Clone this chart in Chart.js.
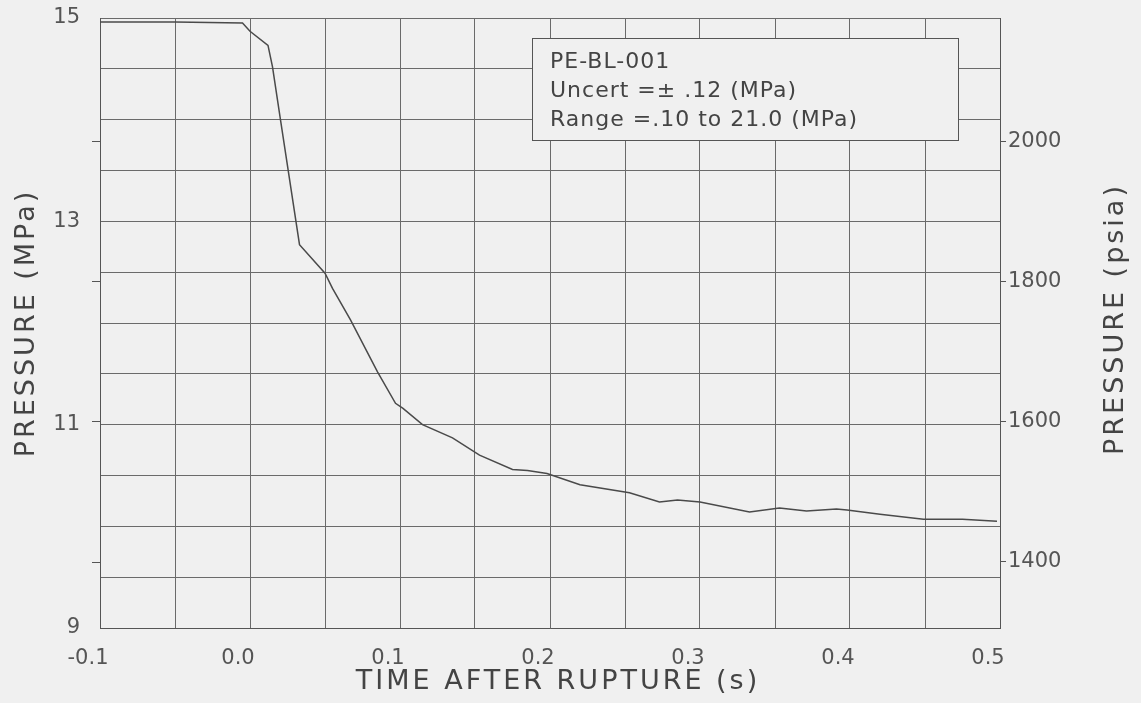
<!DOCTYPE html>
<html>
<head>
<meta charset="utf-8">
<script src="https://cdn.jsdelivr.net/npm/chart.js@4/dist/chart.umd.min.js"></script>
<style>
  html, body { margin: 0; padding: 0; background: #f0f0f0; }
  canvas { display: block; }
</style>
</head>
<body>
<canvas id="pressureChart" width="1141" height="703"></canvas>
<script>
// 讀圖得到的數據
const timeS = [-0.1, -0.05, -0.005, 0.0, 0.012, 0.015, 0.02, 0.033, 0.05, 0.055, 0.067, 0.085, 0.097, 0.102, 0.115, 0.135, 0.153, 0.175, 0.185, 0.198, 0.22, 0.253, 0.273, 0.285, 0.30, 0.333, 0.353, 0.371, 0.391, 0.398, 0.42, 0.449, 0.475, 0.498];
const pressureMPa = [14.96, 14.96, 14.95, 14.87, 14.73, 14.52, 14.03, 12.77, 12.49, 12.34, 12.03, 11.52, 11.21, 11.16, 11.0, 10.87, 10.70, 10.56, 10.55, 10.52, 10.41, 10.33, 10.24, 10.26, 10.24, 10.14, 10.18, 10.15, 10.17, 10.16, 10.12, 10.07, 10.07, 10.05];
const psiaTicks = [1400, 1600, 1800, 2000];
const legendLines = ['PE-BL-001', 'Uncert =\u00b1 .12 (MPa)', 'Range =.10 to 21.0 (MPa)'];
const xTitle = 'TIME AFTER RUPTURE (s)';
const yTitle = 'PRESSURE (MPa)';
const y2Title = 'PRESSURE (psia)';

const MPA_TO_PSI = 145.0377;
const Y_MIN = 9, Y_MAX = 15;
const BG = '#f0f0f0';
const INK = '#555';
const FONT = '"DejaVu Sans", sans-serif';

// 背景、說明框、標題
const decorPlugin = {
    id: 'decor',
    beforeDraw(chart) {
        const ctx = chart.ctx;
        ctx.save();
        ctx.fillStyle = BG;
        ctx.fillRect(0, 0, chart.width, chart.height);
        ctx.restore();
    },
    afterDraw(chart) {
        const ctx = chart.ctx;
        const area = chart.chartArea;
        const y2 = chart.scales.y2;
        ctx.save();

        // 左邊的 psia 刻度
        ctx.strokeStyle = INK;
        ctx.lineWidth = 1;
        psiaTicks.forEach(v => {
            const y = Math.round(y2.getPixelForValue(v)) + 0.5;
            ctx.beginPath();
            ctx.moveTo(area.left - 8, y);
            ctx.lineTo(area.left, y);
            ctx.stroke();
        });

        // 說明框
        const bx = area.right - 468, by = area.top + 20, bw = 426, bh = 102;
        ctx.fillStyle = BG;
        ctx.fillRect(bx, by, bw, bh);
        ctx.strokeRect(bx + 0.5, by + 0.5, bw, bh);
        ctx.fillStyle = '#444';
        ctx.font = '22px ' + FONT;
        ctx.letterSpacing = '1px';
        ctx.textBaseline = 'middle';
        ctx.textAlign = 'left';
        legendLines.forEach((line, i) => {
            ctx.fillText(line, bx + 18, by + 24 + i * 29);
        });

        // 軸標題
        ctx.font = '27px ' + FONT;
        ctx.letterSpacing = '3px';
        ctx.textAlign = 'center';
        const midY = (area.top + area.bottom) / 2;
        ctx.fillText(xTitle, (area.left + area.right) / 2 + 8, chart.height - 21);

        ctx.save();
        ctx.translate(27, midY);
        ctx.rotate(-Math.PI / 2);
        ctx.fillText(yTitle, 0, 0);
        ctx.restore();

        ctx.save();
        ctx.translate(chart.width - 25, midY - 4);
        ctx.rotate(-Math.PI / 2);
        ctx.fillText(y2Title, 0, 0);
        ctx.restore();

        ctx.restore();
    }
};

const gridStyle = { color: '#6a6a6a', lineWidth: 1, drawTicks: false };

// 固定軸的大小，不讓標籤撐開繪圖區
function fixVertical(width) {
    return s => { s.width = width; s.paddingTop = 0; s.paddingBottom = 0; };
}

new Chart(document.getElementById('pressureChart'), {
    type: 'line',
    data: {
        datasets: [{
            data: timeS.map((t, i) => ({ x: t, y: pressureMPa[i] })),
            borderColor: '#4a4a4a',
            borderWidth: 1.5,
            pointRadius: 0,
            tension: 0,
            fill: false
        }]
    },
    options: {
        responsive: false,
        animation: false,
        devicePixelRatio: 1,
        layout: { padding: { top: 18, left: 0, right: 0, bottom: 0 } },
        plugins: { legend: { display: false }, tooltip: { enabled: false } },
        scales: {
            x: {
                type: 'linear',
                min: -0.1,
                max: 0.5,
                grid: gridStyle,
                border: { color: '#555' },
                ticks: {
                    stepSize: 0.05,
                    autoSkip: false,
                    maxRotation: 0,
                    padding: 18,
                    labelOffset: -12,
                    color: INK,
                    font: { family: FONT, size: 21 },
                    callback: v => {
                        if (Math.round(v * 100) % 10 !== 0) return '';
                        return Math.abs(v) < 1e-9 ? '0.0' : v.toFixed(1);
                    }
                },
                afterFit: s => { s.height = 75; s.paddingLeft = 0; s.paddingRight = 0; }
            },
            y: {
                position: 'left',
                min: Y_MIN,
                max: Y_MAX,
                grid: gridStyle,
                border: { color: '#555' },
                ticks: {
                    stepSize: 0.5,
                    autoSkip: false,
                    padding: 20,
                    color: INK,
                    font: { family: FONT, size: 21 },
                    callback: v => (Number.isInteger(v) && v % 2 === 1) ? String(v) : ''
                },
                afterFit: fixVertical(100)
            },
            y2: {
                position: 'right',
                min: Y_MIN * MPA_TO_PSI,
                max: Y_MAX * MPA_TO_PSI,
                grid: { drawOnChartArea: false, drawTicks: true, tickLength: 6, color: '#555' },
                border: { color: '#555' },
                ticks: {
                    padding: 2,
                    color: INK,
                    font: { family: FONT, size: 21 },
                    callback: v => String(v)
                },
                afterBuildTicks: s => { s.ticks = psiaTicks.map(v => ({ value: v })); },
                afterFit: fixVertical(141)
            }
        }
    },
    plugins: [decorPlugin]
});
</script>
</body>
</html>
